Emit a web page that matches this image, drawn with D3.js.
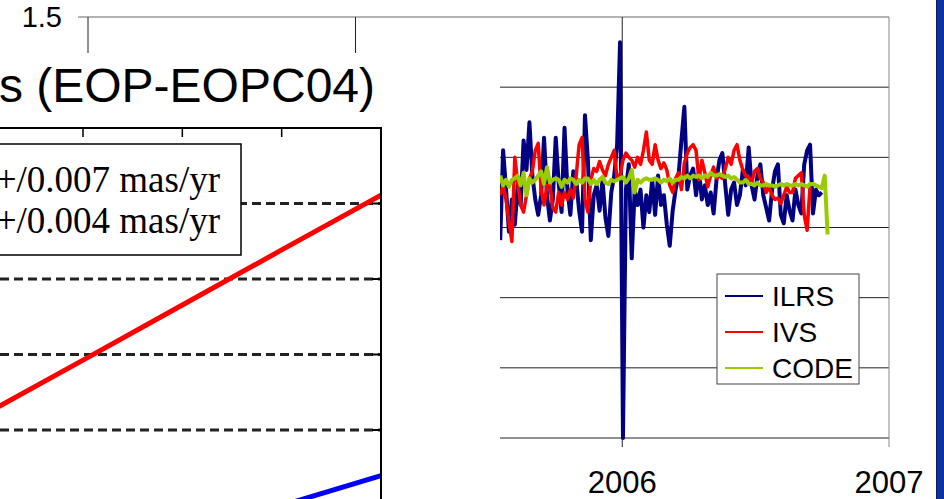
<!DOCTYPE html>
<html>
<head>
<meta charset="utf-8">
<script src="https://cdn.jsdelivr.net/npm/d3@7"></script>
<style>
    body { margin: 0; background: #fff; }
    svg { display: block; }
</style>
</head>
<body>
<div id="chart"></div>
<script>
// Ряды данных (4-дневный шаг, начиная с 18.07.2005)
const seriesNames = ['ILRS', 'IVS', 'CODE'];
const seriesColors = ['#000080', '#ff0000', '#99cc00'];
const seriesWidths = [4, 3.5, 4];
const startDate = new Date(2005, 6, 18);
const stepDays = 4;

const ilrs = [
    -0.09, 0.55, 0.27, -0.03, 0.20, 0.02, 0.30, 0.16, 0.62, 0.41,
    0.75, 0.37, 0.20, 0.09, 0.23, 0.64, 0.23, 0.05, 0.20, 0.64,
    0.32, 0.11, 0.71, 0.27, 0.09, 0.40, 0.34, 0.12, -0.03, 0.80,
    0.48, -0.09, 0.23, 0.30, 0.12, 0.34, 0.07, -0.06, 0.25, 0.37,
    0.59, 1.32, -1.50, 0.27, 0.45, -0.22, 0.27, 0.16, 0.27, 0.00,
    0.23, 0.11, 0.34, 0.09, 0.37, 0.16, 0.23, 0.02, -0.13, 0.12,
    0.27, 0.37, 0.62, 0.86, 0.27, 0.37, 0.42, 0.23, 0.40, 0.20,
    0.30, 0.16, 0.25, 0.10, 0.34, 0.48, 0.53, 0.30, 0.09, 0.27,
    0.32, 0.16, 0.23, 0.41, 0.30, 0.57, 0.30, 0.20, 0.37, 0.45,
    0.23, 0.14, 0.05, 0.27, 0.40, 0.45, 0.09, 0.03, 0.23, 0.12,
    0.05, 0.27, 0.16, 0.10, 0.45, 0.55, 0.59, 0.10, 0.27, 0.23,
    0.25
];

const ivs = [
    0.23, 0.30, 0.20, 0.04, -0.10, 0.50, 0.32, 0.16, 0.11, 0.23,
    0.35, 0.40, 0.55, 0.60, 0.27, 0.16, 0.30, 0.30, 0.14, 0.11,
    0.25, 0.16, 0.25, 0.20, 0.27, 0.21, 0.37, 0.59, 0.64, 0.20,
    0.11, 0.34, 0.42, 0.40, 0.47, 0.41, 0.37, 0.45, 0.50, 0.55,
    0.34, 0.37, 0.48, 0.53, 0.50, 0.48, 0.43, 0.50, 0.45, 0.55,
    0.68, 0.48, 0.45, 0.59, 0.48, 0.42, 0.46, 0.41, 0.30, 0.25,
    0.35, 0.39, 0.27, 0.46, 0.53, 0.57, 0.59, 0.55, 0.34, 0.48,
    0.39, 0.29, 0.37, 0.43, 0.35, 0.37, 0.35, 0.42, 0.50, 0.45,
    0.55, 0.59, 0.48, 0.41, 0.37, 0.36, 0.32, 0.40, 0.42, 0.35,
    0.32, 0.25, 0.29, 0.23, 0.20, 0.21, 0.17, 0.23, 0.29, 0.25,
    0.25, 0.35, 0.37, 0.39, 0.09, -0.02, 0.30
];

const code = [
    0.37, 0.30, 0.34, 0.29, 0.34, 0.35, 0.37, 0.30, 0.39, 0.23,
    0.35, 0.32, 0.34, 0.37, 0.40, 0.31, 0.43, 0.32, 0.34, 0.35,
    0.34, 0.29, 0.34, 0.32, 0.35, 0.34, 0.31, 0.34, 0.32, 0.35,
    0.35, 0.31, 0.34, 0.31, 0.34, 0.36, 0.32, 0.31, 0.34, 0.33,
    0.34, 0.35, 0.36, 0.32, 0.35, 0.41, 0.25, 0.34, 0.32, 0.34,
    0.35, 0.34, 0.34, 0.35, 0.34, 0.32, 0.34, 0.33, 0.35, 0.32,
    0.34, 0.34, 0.36, 0.35, 0.37, 0.35, 0.37, 0.36, 0.37, 0.35,
    0.37, 0.36, 0.39, 0.37, 0.37, 0.38, 0.37, 0.36, 0.37, 0.35,
    0.36, 0.34, 0.32, 0.32, 0.34, 0.31, 0.31, 0.30, 0.32, 0.30,
    0.30, 0.31, 0.30, 0.30, 0.29, 0.30, 0.31, 0.30, 0.31, 0.30,
    0.30, 0.31, 0.30, 0.31, 0.30, 0.29, 0.31, 0.31, 0.30, 0.29,
    0.28, 0.37, -0.05
];

const yTicks = [-1.5, -1, -0.5, 0, 0.5, 1, 1.5];
const yearTicks = [2004, 2005, 2006, 2007];
// Подписи, которые не закрыты вставкой
const yLabels = [1.5];
const yearLabels = [2006, 2007];

// Вставка поверх (картинка из другого графика)
const insetTitle = 's (EOP-EOPC04)';
const insetLegend = ['+/0.007 mas/yr', '+/0.004 mas/yr'];
const insetXTicks = [1990, 1995, 2000, 2005];
const insetYTicks = [-0.4, -0.2, 0, 0.2, 0.4];
const insetRedYears = [1985, 1990, 1995, 2000, 2005];
const insetRed = [-0.360, -0.215, -0.069, 0.077, 0.222];
const insetBlueYears = [1995, 2000, 2005];
const insetBlue = [-0.68, -0.60, -0.521];


let svg = d3.select('#chart').append('svg').attr('width', 944).attr('height', 499);

// Шкалы основного графика
let x = d3.scaleTime()
    .domain([new Date(2004, 0, 1), new Date(2007, 0, 1)])
    .range([88, 889]);
let y = d3.scaleLinear().domain([-1.5, 1.5]).range([438, 17]);

let main = svg.append('g');

// Горизонтальная сетка + засечки слева
main.selectAll('.hgrid')
    .data(yTicks)
    .enter()
    .append('line')
    .attr('x1', 78).attr('x2', 889)
    .attr('y1', d => y(d)).attr('y2', d => y(d))
    .attr('stroke', d => d === 1.5 ? '#666' : '#222')
    .attr('stroke-width', 1);

// Вертикальные линии по годам
main.selectAll('.vgrid')
    .data(yearTicks)
    .enter()
    .append('line')
    .attr('x1', d => x(new Date(d, 0, 1))).attr('x2', d => x(new Date(d, 0, 1)))
    .attr('y1', 17).attr('y2', 447)
    .attr('stroke', d => d === 2007 ? '#888' : '#222')
    .attr('stroke-width', 1);

// Подписи
main.selectAll('.ylab')
    .data(yLabels)
    .enter()
    .append('text')
    .attr('x', 62).attr('y', d => y(d))
    .attr('dy', '0.35em')
    .attr('text-anchor', 'end')
    .style('font', '29px "Liberation Sans", Arial, sans-serif')
    .text(d => d3.format('.1f')(d));

main.selectAll('.xlab')
    .data(yearLabels)
    .enter()
    .append('text')
    .attr('x', d => x(new Date(d, 0, 1))).attr('y', 493)
    .attr('text-anchor', 'middle')
    .style('font', '31px "Liberation Sans", Arial, sans-serif')
    .text(d => d);

// Линии рядов
let line = d3.line()
    .x((d, i) => x(d3.timeDay.offset(startDate, i * stepDays)))
    .y(d => y(d));

[ilrs, ivs, code].forEach((values, k) => {
    main.append('path')
        .datum(values)
        .attr('d', line)
        .attr('fill', 'none')
        .attr('stroke', seriesColors[k])
        .attr('stroke-width', seriesWidths[k])
        .attr('stroke-linejoin', 'round');
});

// Легенда
let legend = main.append('g');
legend.append('rect')
    .attr('x', 717).attr('y', 274).attr('width', 142).attr('height', 110)
    .attr('fill', '#fff').attr('stroke', '#444').attr('stroke-width', 1);

let legendItems = legend.selectAll('.item')
    .data(seriesNames)
    .enter()
    .append('g')
    .attr('transform', (d, i) => `translate(725,${296 + i * 36})`);

legendItems.append('line')
    .attr('x1', 0).attr('x2', 38)
    .attr('stroke', (d, i) => seriesColors[i])
    .attr('stroke-width', 2);

legendItems.append('text')
    .attr('x', 47).attr('dy', '0.35em')
    .style('font', '28px "Liberation Sans", Arial, sans-serif')
    .text(d => d);


// Вставка слева
let inset = svg.append('g');
inset.append('rect')
    .attr('x', 0).attr('y', 53).attr('width', 500).attr('height', 446)
    .attr('fill', '#fff');

inset.append('text')
    .attr('x', 375).attr('y', 102)
    .attr('text-anchor', 'end')
    .style('font', '48px "Liberation Sans", Arial, sans-serif')
    .text(insetTitle);

let ix = d3.scaleLinear().domain([1990, 2005]).range([83, 381]);
let iy = d3.scaleLinear().domain([-0.4, 0.4]).range([430, 128]);

inset.append('clipPath').attr('id', 'insetClip')
    .append('rect').attr('x', 0).attr('y', 128).attr('width', 381).attr('height', 371);

// Пунктирная сетка
inset.selectAll('.dash')
    .data(insetYTicks.filter(d => d < 0.4))
    .enter()
    .append('line')
    .attr('x1', 0).attr('x2', 381)
    .attr('y1', d => iy(d)).attr('y2', d => iy(d))
    .attr('stroke', '#222')
    .attr('stroke-width', 3)
    .attr('stroke-dasharray', '9,5');

// Линии тренда
let iline = (years) => d3.line().x((d, i) => ix(years[i])).y(d => iy(d));

inset.append('path')
    .datum(insetRed)
    .attr('clip-path', 'url(#insetClip)')
    .attr('d', iline(insetRedYears))
    .attr('fill', 'none').attr('stroke', '#ff0000').attr('stroke-width', 5);

inset.append('path')
    .datum(insetBlue)
    .attr('clip-path', 'url(#insetClip)')
    .attr('d', iline(insetBlueYears))
    .attr('fill', 'none').attr('stroke', '#0000ff').attr('stroke-width', 5);

// Рамка осей
inset.append('path')
    .attr('d', `M0,${iy(0.4)}H${ix(2005)}V499`)
    .attr('fill', 'none').attr('stroke', '#000').attr('stroke-width', 2);

inset.selectAll('.xtick')
    .data(insetXTicks.filter(d => d < 2005))
    .enter()
    .append('line')
    .attr('x1', d => ix(d)).attr('x2', d => ix(d))
    .attr('y1', iy(0.4)).attr('y2', iy(0.4) + 9)
    .attr('stroke', '#000').attr('stroke-width', 1.5);

inset.selectAll('.ytick')
    .data(insetYTicks)
    .enter()
    .append('line')
    .attr('x1', ix(2005) - 9).attr('x2', ix(2005))
    .attr('y1', d => iy(d)).attr('y2', d => iy(d))
    .attr('stroke', '#000').attr('stroke-width', 2);

// Легенда вставки
inset.append('rect')
    .attr('x', -10).attr('y', 144).attr('width', 251).attr('height', 111)
    .attr('fill', '#fff').attr('stroke', '#000').attr('stroke-width', 1.5);

inset.selectAll('.ilab')
    .data(insetLegend)
    .enter()
    .append('text')
    .attr('x', 220).attr('y', (d, i) => 192 + i * 41)
    .attr('text-anchor', 'end')
    .style('font', '37px "Liberation Serif", "Times New Roman", serif')
    .text(d => d);

// Синяя полоса справа
svg.append('rect')
    .attr('x', 936).attr('y', 0).attr('width', 8).attr('height', 499)
    .attr('fill', '#0b31a5');
svg.append('line')
    .attr('x1', 936.5).attr('x2', 936.5).attr('y1', 0).attr('y2', 499)
    .attr('stroke', '#061c66').attr('stroke-width', 1);
</script>
</body>
</html>
